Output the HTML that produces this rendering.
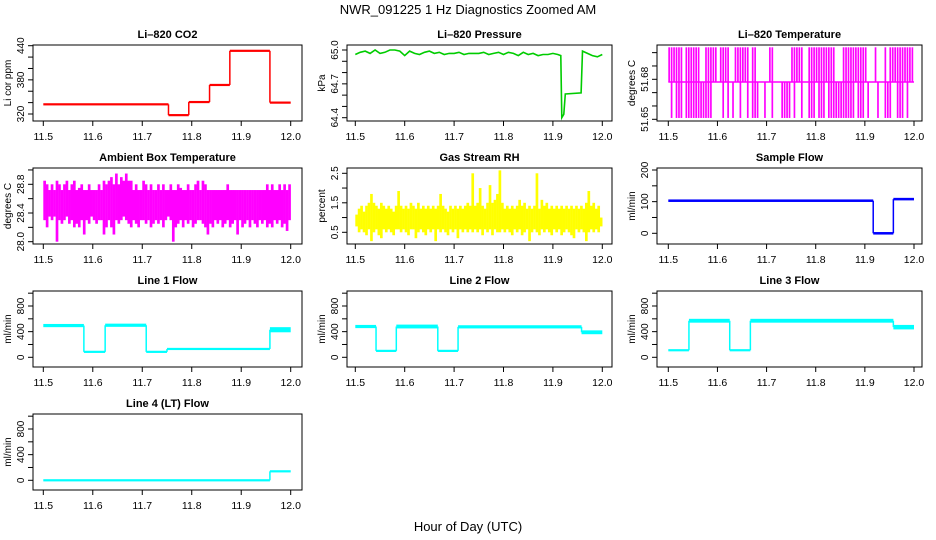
<!DOCTYPE html>
<html><head><meta charset="utf-8"><style>
html,body{margin:0;padding:0;background:#fff;}
svg{display:block;font-family:"Liberation Sans",Arial,sans-serif;}
</style></head><body>
<svg id="c" width="936" height="540" viewBox="0 0 936 540" xmlns="http://www.w3.org/2000/svg">
<text x="468" y="14" text-anchor="middle" font-size="13">NWR_091225  1 Hz Diagnostics Zoomed AM</text>
<text x="468" y="531" text-anchor="middle" font-size="13">Hour of Day (UTC)</text>
</svg>
<script>
// ---- data ----
const xTicks = [11.5, 11.6, 11.7, 11.8, 11.9, 12.0];
const xTickLabels = ["11.5", "11.6", "11.7", "11.8", "11.9", "12.0"];

const co2Times = [11.5, 11.753, 11.794, 11.836, 11.877, 11.958, 12.0];
const co2Values = [337, 318, 341, 371, 431, 340];
const co2Bands = [1, 1, 1, 1, 1, 1];

const presTimes = [11.5,11.51,11.52,11.53,11.54,11.55,11.56,11.57,11.58,11.59,11.60,11.61,11.62,11.63,11.64,11.65,11.66,11.67,11.68,11.69,11.70,11.71,11.72,11.73,11.74,11.75,11.76,11.77,11.78,11.79,11.80,11.81,11.82,11.83,11.84,11.85,11.86,11.87,11.88,11.89,11.90,11.91,11.916,11.918,11.922,11.925,11.957,11.96,11.97,11.98,11.99,12.0];
const presValues = [64.96,64.98,64.99,64.97,65.00,64.97,64.98,65.00,65.00,64.99,64.95,64.99,64.97,64.96,64.98,64.99,64.97,64.98,64.96,64.97,64.97,64.98,64.96,64.97,64.97,64.97,64.98,64.96,64.97,64.98,64.96,64.98,64.97,64.95,64.98,64.96,64.97,64.95,64.96,64.96,64.97,64.96,64.95,64.40,64.43,64.61,64.62,64.99,64.97,64.95,64.94,64.96];

const tempHi = [51.704,51.704,51.704,51.704,51.704,51.704,51.678,51.704,51.704,51.704,51.704,51.704,51.704,51.678,51.678,51.704,51.704,51.704,51.704,51.704,51.678,51.704,51.704,51.704,51.704,51.678,51.678,51.704,51.704,51.704,51.704,51.704,51.704,51.678,51.704,51.704,51.678,51.678,51.678,51.678,51.678,51.704,51.704,51.678,51.678,51.678,51.678,51.678,51.678,51.678,51.704,51.704,51.704,51.704,51.704,51.678,51.678,51.704,51.704,51.704,51.704,51.704,51.704,51.704,51.704,51.704,51.704,51.704,51.678,51.678,51.678,51.704,51.704,51.704,51.704,51.704,51.704,51.704,51.704,51.704,51.704,51.678,51.678,51.678,51.704,51.678,51.678,51.678,51.704,51.678,51.704,51.704,51.704,51.704,51.704,51.704,51.704,51.704,51.704,51.704];
const tempLo = [51.678,51.651,51.678,51.651,51.651,51.651,51.678,51.651,51.651,51.651,51.651,51.651,51.651,51.651,51.651,51.651,51.651,51.651,51.678,51.678,51.678,51.678,51.651,51.678,51.651,51.678,51.651,51.678,51.678,51.651,51.678,51.678,51.651,51.678,51.651,51.651,51.651,51.678,51.678,51.651,51.678,51.678,51.651,51.678,51.678,51.678,51.651,51.651,51.651,51.651,51.678,51.651,51.678,51.678,51.651,51.678,51.678,51.651,51.651,51.651,51.678,51.651,51.651,51.651,51.678,51.651,51.651,51.651,51.651,51.651,51.651,51.651,51.651,51.651,51.651,51.651,51.678,51.651,51.651,51.651,51.678,51.651,51.678,51.678,51.678,51.651,51.678,51.678,51.651,51.651,51.651,51.678,51.678,51.651,51.651,51.651,51.678,51.651,51.678,51.678];

const ambHi = [28.85,28.80,28.72,28.80,28.72,28.85,28.80,28.72,28.80,28.85,28.72,28.80,28.85,28.72,28.75,28.80,28.72,28.72,28.80,28.72,28.72,28.72,28.80,28.72,28.85,28.80,28.85,28.90,28.80,28.95,28.80,28.90,28.85,28.95,28.85,28.85,28.72,28.80,28.72,28.72,28.85,28.80,28.72,28.80,28.72,28.72,28.80,28.72,28.80,28.72,28.72,28.80,28.72,28.72,28.80,28.75,28.72,28.72,28.80,28.72,28.72,28.80,28.85,28.72,28.85,28.80,28.72,28.72,28.72,28.72,28.72,28.72,28.72,28.72,28.80,28.72,28.72,28.72,28.72,28.72,28.72,28.72,28.72,28.72,28.72,28.72,28.72,28.72,28.72,28.72,28.80,28.72,28.80,28.72,28.72,28.80,28.72,28.80,28.72,28.80];
const ambLo = [28.30,28.20,28.35,28.30,28.35,28.00,28.30,28.25,28.30,28.35,28.25,28.30,28.20,28.25,28.20,28.30,28.10,28.30,28.25,28.35,28.30,28.25,28.30,28.30,28.10,28.20,28.30,28.20,28.10,28.30,28.25,28.30,28.35,28.30,28.25,28.20,28.30,28.25,28.20,28.30,28.30,28.25,28.30,28.20,28.25,28.30,28.25,28.30,28.20,28.30,28.35,28.30,28.00,28.20,28.25,28.30,28.20,28.30,28.25,28.30,28.20,28.25,28.30,28.30,28.25,28.20,28.10,28.25,28.20,28.30,28.25,28.30,28.20,28.25,28.30,28.20,28.25,28.30,28.10,28.30,28.20,28.25,28.30,28.20,28.30,28.25,28.20,28.30,28.25,28.30,28.20,28.25,28.20,28.30,28.25,28.30,28.20,28.25,28.15,28.30];

const rhHi = [1.1,1.3,1.4,1.2,1.4,1.5,1.8,1.5,1.4,1.3,1.5,1.4,1.3,1.4,1.3,1.2,1.4,1.9,1.4,1.3,1.4,1.3,1.5,1.4,1.3,1.5,1.3,1.4,1.3,1.4,1.3,1.4,1.3,1.4,1.8,1.4,1.3,1.2,1.4,1.3,1.4,1.3,1.4,1.3,1.4,1.5,1.4,2.5,1.4,1.5,2.0,1.4,1.3,1.5,2.1,1.5,1.6,1.8,2.6,1.5,1.3,1.4,1.3,1.4,1.3,1.4,1.6,1.4,1.5,1.3,1.4,1.3,1.4,2.5,1.3,1.6,1.4,1.5,1.3,1.4,1.3,1.4,1.3,1.4,1.3,1.4,1.3,1.4,1.3,1.4,1.3,1.4,1.3,1.5,1.9,1.4,1.5,1.3,1.4,1.0];
const rhLo = [0.7,0.5,0.6,0.5,0.4,0.6,0.2,0.5,0.6,0.4,0.3,0.6,0.5,0.6,0.5,0.4,0.6,0.6,0.5,0.6,0.5,0.4,0.6,0.6,0.3,0.5,0.6,0.5,0.4,0.6,0.5,0.6,0.2,0.6,0.5,0.6,0.5,0.4,0.6,0.5,0.6,0.3,0.6,0.5,0.6,0.5,0.6,0.5,0.6,0.5,0.6,0.4,0.6,0.5,0.6,0.4,0.6,0.5,0.5,0.6,0.5,0.6,0.5,0.4,0.6,0.5,0.6,0.4,0.5,0.6,0.2,0.5,0.6,0.5,0.4,0.6,0.5,0.6,0.5,0.4,0.6,0.5,0.6,0.4,0.5,0.6,0.5,0.4,0.3,0.6,0.5,0.6,0.5,0.2,0.5,0.6,0.5,0.6,0.5,0.7];

const sampleTimes = [11.5, 11.917, 11.958, 12.0];
const sampleValues = [103, 0, 108];
const sampleBands = [4, 4, 4];

const line1Times = [11.5, 11.582, 11.625, 11.708, 11.75, 11.958, 12.0];
const line1Values = [495, 85, 500, 85, 130, 430];
const line1Bands = [25, 6, 25, 6, 8, 40];
const line2Times = [11.5, 11.542, 11.583, 11.667, 11.708, 11.958, 12.0];
const line2Values = [480, 100, 480, 100, 475, 390];
const line2Bands = [25, 6, 30, 6, 25, 30];
const line3Times = [11.5, 11.542, 11.625, 11.667, 11.958, 12.0];
const line3Values = [110, 570, 110, 570, 470];
const line3Bands = [8, 30, 8, 30, 35];
const line4Times = [11.5, 11.958, 12.0];
const line4Values = [0, 140];
const line4Bands = [4, 6];

// ---- layout (positions, not data) ----
const cols = [{bx0:33,bx1:302,px0:43.3,px1:290.7},{bx0:347,bx1:612,px0:355.3,px1:602.3},{bx0:657,bx1:922,px0:668.3,px1:914}];
const rows = [{by0:45,by1:121},{by0:168,by1:244},{by0:291,by1:367},{by0:414,by1:490}];
const NS = "http://www.w3.org/2000/svg";
const svg = document.getElementById("c");
function mk(tag, attrs, parent){
  const e = document.createElementNS(NS, tag);
  for (const k in attrs) e.setAttribute(k, attrs[k]);
  (parent||svg).appendChild(e);
  return e;
}
function panel(name, title, ylab, c, r, v1, p1, v2, p2, yt, ylabels){
  const C = cols[c], R = rows[r];
  const g = mk("g", {});
  
  
  const P = {g, xs:t=>C.px0+(t-11.5)/0.5*(C.px1-C.px0), ys:v=>p1+(v-v1)*(p2-p1)/(v2-v1), C, R};
  const box = mk("rect", {x:C.bx0, y:R.by0, width:C.bx1-C.bx0, height:R.by1-R.by0, fill:"none", stroke:"#000", "stroke-width":1}, g);
  
  
  const tt = mk("text", {x:(C.bx0+C.bx1)/2, y:R.by0-7, "text-anchor":"middle", "font-size":11, "font-weight":"bold"}, g);
  tt.textContent = title;
  
  
  const yl = mk("text", {transform:`translate(${C.bx0-22},${(R.by0+R.by1)/2}) rotate(-90)`, "text-anchor":"middle", "font-size":10}, g);
  yl.textContent = ylab;
  
  
  mk("line", {x1:P.xs(xTicks[0]), x2:P.xs(xTicks[xTicks.length-1]), y1:R.by1, y2:R.by1, stroke:"#000"}, g);
  xTicks.forEach((t,i)=>{
    const x = P.xs(t);
    mk("line", {x1:x, x2:x, y1:R.by1, y2:R.by1+5, stroke:"#000"}, g);
    const lab = mk("text", {x:x, y:R.by1+19, "text-anchor":"middle", "font-size":10.5}, g);
    lab.textContent = xTickLabels[i];
    
    
  });
  yt.forEach(v=>{
    const y = P.ys(v);
    mk("line", {x1:C.bx0-5, x2:C.bx0, y1:y, y2:y, stroke:"#000"}, g);
  });
  ylabels.forEach(s=>{
    const y = P.ys(parseFloat(s));
    const lab = mk("text", {transform:`translate(${C.bx0-9},${y}) rotate(-90)`, "text-anchor":"middle", "font-size":10}, g);
    lab.textContent = s;
    
    
  });
  return P;
}
function steps(P, name, times, vals, bands, color){
  for (let i=0;i<vals.length;i++){
    const x0=P.xs(times[i]), x1=P.xs(times[i+1]);
    const yA=P.ys(vals[i]+bands[i]), yB=P.ys(vals[i]-bands[i]);
    const h=Math.max(2.2, yB-yA);
    const r = mk("rect", {x:x0, y:(yA+yB)/2-h/2, width:x1-x0, height:h, fill:color}, P.g);
    
    
    if (i>0){
      const yp=P.ys(vals[i-1]), yc=P.ys(vals[i]);
      const l = mk("line", {x1:x0, x2:x0, y1:yp, y2:yc, stroke:color, "stroke-width":1.5}, P.g);
      
      
    }
  }
}
function envelope(P, name, lo, hi, color, mid, frac){
  const n = lo.length, w = 0.5/n;
  if (mid!==undefined){
    const l = mk("line", {x1:P.xs(11.5), x2:P.xs(12.0), y1:P.ys(mid), y2:P.ys(mid), stroke:color, "stroke-width":1.5}, P.g);
    
    
  }
  const f = frac||1;
  for (let i=0;i<n;i++){
    const x0=P.xs(11.5+i*w), x1=P.xs(11.5+(i+1)*w);
    const yA=P.ys(hi[i]), yB=P.ys(lo[i]);
    if (yB-yA<0.5) continue;
    const r = mk("rect", {x:x0, y:yA, width:(x1-x0)*f+0.2, height:yB-yA, fill:color}, P.g);
    
    
  }
}

let P = panel("co2","Li\u2013820 CO2","Li cor ppm",0,0,320,114,440,45.7,[320,340,360,380,400,420,440],["320","380","440"]);
steps(P,"co2",co2Times,co2Values,co2Bands,"#ff0000");
P = panel("pressure","Li\u2013820 Pressure","kPa",1,0,64.4,117.7,65.0,50,[64.4,64.5,64.6,64.7,64.8,64.9,65.0],["64.4","64.7","65.0"]);
{
  const pts = presTimes.map((t,i)=>{return P.xs(t).toFixed(1)+","+P.ys(presValues[i]).toFixed(1);});
  const pl = mk("polyline",{points:pts.join(" "), fill:"none", stroke:"#00cc00", "stroke-width":1.6}, P.g);
  
  
}
P = panel("li820-temp","Li\u2013820 Temperature","degrees C",2,0,51.65,119.3,51.68,79.3,[51.65,51.66,51.67,51.68,51.69,51.70],["51.65","51.68"]);
envelope(P,"li820-temp",tempLo,tempHi,"#ff00ff",51.678,0.6);
P = panel("ambient-temp","Ambient Box Temperature","degrees C",0,1,28.0,241.7,28.8,184.3,[28.0,28.2,28.4,28.6,28.8,29.0],["28.0","28.4","28.8"]);
envelope(P,"ambient-temp",ambLo,ambHi,"#ff00ff");
P = panel("gas-rh","Gas Stream RH","percent",1,1,0.5,232.3,2.5,173.3,[0.5,1.0,1.5,2.0,2.5],["0.5","1.5","2.5"]);
envelope(P,"gas-rh",rhLo,rhHi,"#ffff00");
P = panel("sample-flow","Sample Flow","ml/min",2,1,0,233.3,200,170,[0,50,100,150,200],["0","100","200"]);
steps(P,"sample-flow",sampleTimes,sampleValues,sampleBands,"#0000ff");
const lt=[0,200,400,600,800,1000], ll=["0","400","800"];
P = panel("line1-flow","Line 1 Flow","ml/min",0,2,0,357.3,800,306,lt,ll);
steps(P,"line1-flow",line1Times,line1Values,line1Bands,"#00ffff");
P = panel("line2-flow","Line 2 Flow","ml/min",1,2,0,357.3,800,306,lt,ll);
steps(P,"line2-flow",line2Times,line2Values,line2Bands,"#00ffff");
P = panel("line3-flow","Line 3 Flow","ml/min",2,2,0,357.3,800,306,lt,ll);
steps(P,"line3-flow",line3Times,line3Values,line3Bands,"#00ffff");
P = panel("line4-flow","Line 4 (LT) Flow","ml/min",0,3,0,480.3,800,429,lt,ll);
steps(P,"line4-flow",line4Times,line4Values,line4Bands,"#00ffff");
</script>
</body></html>
